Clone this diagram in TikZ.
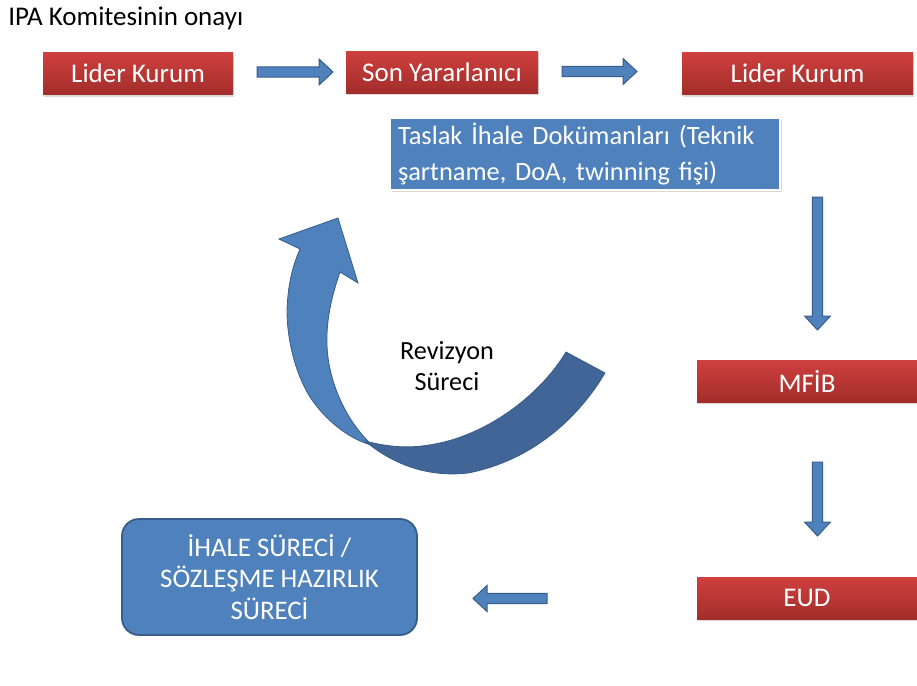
\documentclass[tikz,border=0pt]{standalone}
\usepackage{fontspec}
\setmainfont{Carlito}
\usepackage{tikz}
\usetikzlibrary{calc,shadows}
\definecolor{redtop}{HTML}{CF403E}
\definecolor{redbot}{HTML}{A22D2B}
\definecolor{boxblue}{HTML}{4F81BD}
\definecolor{edgeblue}{HTML}{385D8A}
\definecolor{darkblue}{HTML}{416596}
\tikzstyle{redbox} = [rectangle, minimum height=21pt, inner sep=0pt, outer sep=0pt, top color=redtop, bottom color=redbot, draw=none, text=white, font=\fontsize{13.5}{15}\selectfont, drop shadow={shadow xshift=0.6pt, shadow yshift=-1.2pt, opacity=0.3}]
\tikzstyle{bluebox} = [rectangle, outer sep=0pt, fill=boxblue, text=white, font=\fontsize{13.2}{18.3}\selectfont]
\tikzstyle{blockarrow} = [draw=edgeblue, fill=boxblue, line width=0.5pt, to path={
  ($(\tikztostart)!2.6pt!90:(\tikztotarget)$)
  -- ($($(\tikztotarget)!7pt!(\tikztostart)$)!2.6pt!-90:(\tikztostart)$)
  -- ($($(\tikztotarget)!7pt!(\tikztostart)$)!6.5pt!-90:(\tikztostart)$)
  -- (\tikztotarget)
  -- ($($(\tikztotarget)!7pt!(\tikztostart)$)!6.5pt!90:(\tikztostart)$)
  -- ($($(\tikztotarget)!7pt!(\tikztostart)$)!2.6pt!90:(\tikztostart)$)
  -- ($(\tikztostart)!2.6pt!-90:(\tikztotarget)$)
  -- cycle}]
\tikzstyle{curveedge} = [draw=edgeblue, line width=0.4pt]

\begin{document}
\begin{tikzpicture}[x=0.5pt,y=-0.5pt]
            \useasboundingbox (0,0) rectangle (917,686);
            \node(title)[anchor=base west,inner sep=0pt,font=\fontsize{13.5}{15}\selectfont] at (8,25) {IPA Komitesinin onayı};
            \node(lider1)[redbox,minimum width=95pt] at (138,73.5) {Lider Kurum};
            \node(sony)[redbox,minimum width=96pt] at (442,72) {Son Yararlanıcı};
            \node(lider2)[redbox,minimum width=115.5pt] at (797.5,73.5) {Lider Kurum};
            \node(taslak)[bluebox,draw=white,line width=1pt,text width=187pt,inner xsep=4pt,inner ysep=0pt,minimum height=36pt,align=left,drop shadow={shadow xshift=0.8pt,shadow yshift=-1pt,opacity=0.3}] at (585,154) {Taslak İhale Dokümanları (Teknik\\şartname, DoA, twinning fişi)};
            \node(mfib)[redbox,minimum width=110pt] at (807,381) {MFİB};
            \node(eud)[redbox,minimum width=110pt] at (807,598) {EUD};
            \node(ihale)[bluebox,draw=edgeblue,line width=0.9pt,rounded corners=8.5pt,minimum width=147.5pt,minimum height=58pt,align=center,font=\fontsize{13.4}{15.8}\selectfont] at (269.5,577) {İHALE SÜRECİ /\\SÖZLEŞME HAZIRLIK\\SÜRECİ};
            \node(revz)[align=center,font=\fontsize{13.1}{15.8}\selectfont] at (447,366) {Revizyon\\Süreci};
            % revision loop
            \path[fill=boxblue,curveedge] (372,445) .. controls (350,440) and (325,420) .. (310,397) .. controls (298,378) and (287,345) .. (287,310) .. controls (288,283) and (293,265) .. (300,249) -- (279,239) -- (338,218) -- (358,283) -- (340,272) .. controls (332,295) and (326,320) .. (327,345) .. controls (328,380) and (345,420) .. (372,445) -- cycle;
            \path[fill=darkblue,curveedge] (605,373) .. controls (580,415) and (535,460) .. (468,473) .. controls (425,478) and (390,462) .. (365,441) .. controls (400,450) and (420,447) .. (440,443) .. controls (490,432) and (540,395) .. (566,352) -- cycle;
            % flow
            \draw[blockarrow]([shift={(24,-1.5)}]lider1.east) to ([shift={(-13,0)}]sony.west);
            \draw[blockarrow]([shift={(24,-0.5)}]sony.east) to ([shift={(-45,-2)}]lider2.west);
            \draw[blockarrow]([shift={(37.5,7)}]taslak.south east) to ([shift={(10.5,-30)}]mfib.north);
            \draw[blockarrow]([shift={(10.5,60)}]mfib.south) to ([shift={(10.5,-41)}]eud.north);
            \draw[blockarrow]([shift={(-150,0.5)}]eud.west) to ([shift={(56,21.5)}]ihale.east);
        \end{tikzpicture}
\end{document}
